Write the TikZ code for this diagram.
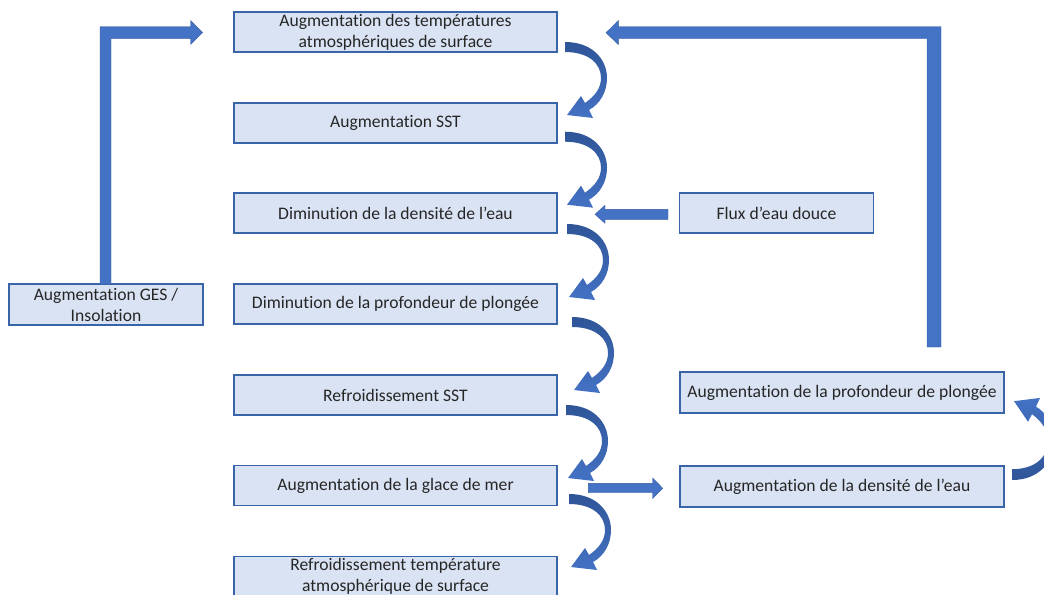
\documentclass[tikz,border=0pt]{standalone}
\usepackage{fontspec}
\setmainfont{Carlito}[Ligatures=NoCommon]
\usetikzlibrary{calc}
\definecolor{boxfill}{HTML}{DAE3F3}
\definecolor{boxline}{HTML}{3A64A8}
\definecolor{arr}{HTML}{4472C4}
\definecolor{arrdark}{HTML}{2F5597}
\tikzset{
  box/.style={draw=boxline, line width=0.8pt, fill=boxfill, minimum width=242.25pt,
    minimum height=30pt, inner sep=0pt, align=center,
    font=\fontsize{13.2}{15.75}\selectfont, text=black!85},
  smallbox/.style={box, minimum width=145.5pt, minimum height=30.75pt},
  widebox/.style={box, minimum width=243pt, minimum height=30.75pt},
  blockarrow/.style={fill=arr, draw=arr!80!black, line width=0.3pt}
}
\newcommand{\curvedblock}[1]{%
  \path[#1] (0,0) .. controls (28,0) and (42,18) .. (42,36)
    .. controls (42,50) and (35,62) .. (24,68)
    -- (28,76) -- (2,73) -- (16,54) -- (20,61)
    .. controls (30,54) and (36,46) .. (36,36)
    .. controls (36,22) and (24,10) .. (0,10) -- cycle;}
\begin{document}
\begin{tikzpicture}[x=0.75pt,y=-0.75pt]
\useasboundingbox (0,0) rectangle (1044,594);

% main column
\node[box] (b1) at (395.5,32) {Augmentation des températures\\atmosphériques de surface};
\node[box] (b2) at (395.5,123) {Augmentation SST};
\node[box] (b3) at (395.5,213) {Diminution de la densité de l’eau};
\node[box] (b4) at (395.5,304) {Diminution de la profondeur de plongée};
\node[box] (b5) at (395.5,395) {Refroidissement SST};
\node[box] (b6) at (395.5,485.5) {Augmentation de la glace de mer};
\node[box] (b7) at (395.5,576.5) {Refroidissement température\\atmosphérique de surface};

% side boxes
\node[smallbox] (ges) at (106,304.5) {Augmentation GES /\\Insolation};
\node[smallbox, minimum height=30pt] (flux) at (776.5,213) {Flux d’eau douce};
\node[widebox] (prof) at (842,392.5) {Augmentation de la profondeur de plongée};
\node[widebox] (dens) at (842,486.5) {Augmentation de la densité de l’eau};

% left L arrow: GES -> b1
\path[blockarrow] (100,284) -- (100,26.7) -- (190.7,26.7) -- (190.7,20.7)
  -- (202.7,32.5) -- (190.7,44.3) -- (190.7,38.3) -- (111,38.3) -- (111,284) -- cycle;

% right L arrow: prof -> b1
\path[blockarrow] (927,347) -- (927,38.7) -- (618.3,38.7) -- (618.3,44.5)
  -- (606,32.7) -- (618.3,20.7) -- (618.3,26.7) -- (941,26.7) -- (941,347) -- cycle;

% flux -> b3
\path[blockarrow] (668,209.3) -- (605,209.3) -- (605,205.3) -- (595,214.3)
  -- (605,223.3) -- (605,219.3) -- (668,219.3) -- cycle;

% b6 -> dens
\path[blockarrow] (588.3,483.3) -- (652.7,483.3) -- (652.7,478) -- (662.7,488.3)
  -- (652.7,498.5) -- (652.7,492.7) -- (588.3,492.7) -- cycle;

% curved arrows in main column
\foreach \sx/\sy in {565/42, 565/131.7, 567/224, 572/317, 566/405, 569/494}{
  \begin{scope}[shift={(\sx,\sy)}]
    \curvedblock{top color=arrdark, bottom color=arr}
  \end{scope}
}
% dens -> prof curved arrow
\begin{scope}[shift={(1012,480)}, yscale=-1.08]
  \curvedblock{top color=arr, bottom color=arrdark}
\end{scope}
\end{tikzpicture}
\end{document}
